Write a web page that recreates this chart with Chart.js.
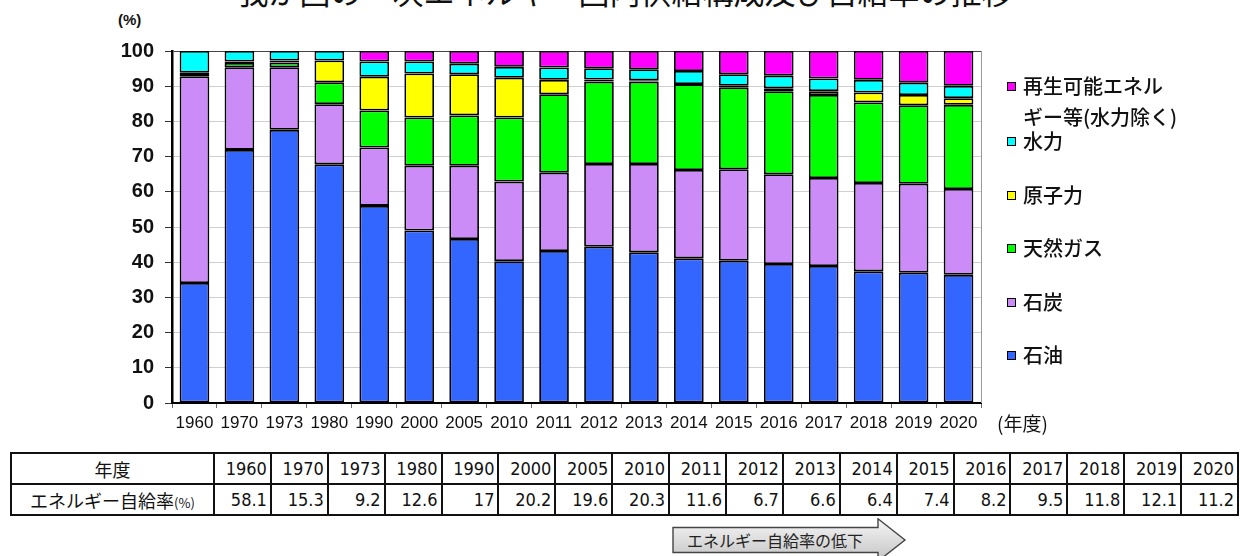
<!DOCTYPE html>
<html lang="ja">
<head>
<meta charset="utf-8">
<script src="https://cdn.jsdelivr.net/npm/chart.js@4.4.1/dist/chart.umd.min.js"></script>
<style>
  html, body { margin: 0; padding: 0; background: #fff; }
  body { width: 1240px; height: 556px; position: relative; overflow: hidden;
         font-family: "Noto Sans CJK JP", "Liberation Sans", sans-serif; color: #111; }
  #title { position: absolute; left: 0; width: 1250px; top: -25px; text-align: center;
           font-size: 31px; line-height: 31px; white-space: nowrap; color: #111; }
  #unit { position: absolute; left: 118px; top: 11px; font-size: 15px; font-weight: bold;
          font-family: "Liberation Sans", sans-serif; }
  #chartBox { position: absolute; left: 0; top: 0; width: 1240px; height: 445px; }
  #yearUnit { position: absolute; left: 997px; top: 409px; font-size: 19px; }
  #legend { position: absolute; left: 1007px; top: 0; }
  .lg { position: absolute; left: 0; white-space: nowrap; font-size: 20px; line-height: 31px; font-weight: 500; }
  .lg i { display: inline-block; width: 7px; height: 7px; border: 1px solid #000;
          vertical-align: middle; margin-right: 7px; position: relative; top: -2px; }
  #tbl { position: absolute; left: 10px; top: 452px; border-collapse: collapse; table-layout: fixed; }
  #tbl td { border: 2px solid #111; height: 29px; padding: 0 3px 0 0; font-size: 18px;
            font-family: "Liberation Sans Narrow", "DejaVu Sans Condensed", "Liberation Sans", sans-serif;
            text-align: right; white-space: nowrap; }
  #tbl td.hd { text-align: center; font-family: "Noto Sans CJK JP", sans-serif; font-size: 18px; padding: 0; }
  #tbl td.hd small { font-size: 13px; }
  #arrow { position: absolute; left: 672px; top: 518px; width: 236px; height: 44px; }
  #arrowText { position: absolute; left: 672px; top: 527px; width: 206px; height: 26px;
               text-align: center; font-size: 16px; line-height: 26px; color: #222; }
</style>
</head>
<body>
<div id="title">我が国の一次エネルギー国内供給構成及び自給率の推移</div>
<div id="unit">(%)</div>
<div id="chartBox"><canvas id="c" width="1240" height="445"></canvas></div>
<div id="yearUnit">(年度)</div>
<div id="legend"></div>
<table id="tbl"></table>
<svg id="arrow" width="236" height="44" viewBox="0 0 236 44">
  <defs>
    <linearGradient id="ag" x1="0" y1="0" x2="0" y2="1">
      <stop offset="0" stop-color="#f6f6f6"/>
      <stop offset="1" stop-color="#c4c4c4"/>
    </linearGradient>
  </defs>
  <polygon points="1,9.5 206,9.5 206,0.8 233,22 206,43.2 206,34.5 1,34.5"
           fill="url(#ag)" stroke="#444" stroke-width="1.4"/>
</svg>
<div id="arrowText">エネルギー自給率の低下</div>

<script>
// 年度
const years = ['1960','1970','1973','1980','1990','2000','2005','2010','2011','2012',
               '2013','2014','2015','2016','2017','2018','2019','2020'];

// 一次エネルギー国内供給の構成比(%)
const oil     = [34.1,71.9,77.6,67.8,56.0,49.0,46.6,40.3,43.2,44.4,42.8,41.1,40.4,39.5,38.9,37.4,37.0,36.4];
const coal    = [58.7,23.5,17.8,17.1,16.6,18.4,20.8,22.6,22.2,23.5,25.1,25.1,26.0,25.5,25.0,25.1,25.3,24.4];
const gas     = [1.0,1.2,1.3,6.2,10.5,13.7,14.3,18.2,22.3,23.4,23.4,24.4,23.3,23.6,23.6,22.9,22.3,23.9];
const nuclear = [0,0.4,0.6,6.2,9.6,12.5,11.7,11.3,4.1,0.6,0.4,0,0.4,0.8,1.1,2.8,2.9,1.9];
const hydro   = [6.2,3.0,2.7,2.7,4.3,3.4,3.0,3.1,3.5,3.2,3.1,3.7,3.3,3.6,3.6,3.6,3.5,3.5];
const renew   = [0,0,0,0,3.0,3.0,3.6,4.5,4.7,4.9,5.2,5.7,6.6,7.0,7.8,8.2,9.0,9.9];

// エネルギー自給率(%)
const selfRate = ['58.1','15.3','9.2','12.6','17','20.2','19.6','20.3','11.6','6.7',
                  '6.6','6.4','7.4','8.2','9.5','11.8','12.1','11.2'];

// y軸目盛
const yTicks = [0,10,20,30,40,50,60,70,80,90,100];

const series = [
  { label: '石油', data: oil, color: '#3366ff' },
  { label: '石炭', data: coal, color: '#cc8cf8' },
  { label: '天然ガス', data: gas, color: '#00ff00' },
  { label: '原子力', data: nuclear, color: '#ffff00' },
  { label: '水力', data: hydro, color: '#00ffff' },
  { label: ['再生可能エネル', 'ギー等(水力除く)'], data: renew, color: '#ff00ff' }
];

const frame = {
  id: 'frame',
  afterDraw(chart) {
    const { ctx, chartArea: a } = chart;
    ctx.save();
    ctx.strokeStyle = '#999';
    ctx.lineWidth = 1;
    ctx.beginPath();
    ctx.moveTo(a.right + 0.5, a.top);
    ctx.lineTo(a.right + 0.5, a.bottom);
    ctx.stroke();
    ctx.restore();
  }
};

new Chart(document.getElementById('c'), {
  type: 'bar',
  data: {
    labels: years,
    datasets: series.map(s => ({
      label: Array.isArray(s.label) ? s.label.join('') : s.label,
      data: s.data,
      backgroundColor: s.color,
      borderColor: '#000',
      borderWidth: 1.8,
      borderSkipped: false,
      categoryPercentage: 1,
      barPercentage: 0.66
    }))
  },
  options: {
    responsive: false,
    animation: false,
    events: [],
    layout: { padding: { left: 0, top: 51, right: 259, bottom: 0 } },
    plugins: { legend: { display: false }, tooltip: { enabled: false }, title: { display: false } },
    scales: {
      x: {
        stacked: true,
        offset: true,
        grid: { display: true, drawOnChartArea: false, offset: true, tickLength: 5, tickColor: '#666' },
        border: { color: '#000', width: 2 },
        ticks: { color: '#111', font: { family: 'Liberation Sans', size: 17 }, padding: 5, maxRotation: 0, autoSkip: false },
        afterFit(scale) { scale.height = 42; }
      },
      y: {
        stacked: true,
        min: 0, max: 100,
        afterBuildTicks(scale) { scale.ticks = yTicks.map(v => ({ value: v })); },
        grid: {
          color: ctx => (ctx.tick && ctx.tick.value === 100) ? '#444' : '#cfcfcf',
          lineWidth: 1,
          tickLength: 7,
          tickColor: '#333'
        },
        border: { color: '#000', width: 2.5 },
        ticks: { color: '#111', font: { family: 'Liberation Sans', size: 20, weight: 'bold' }, padding: 11 },
        afterFit(scale) { scale.width = 172; }
      }
    }
  },
  plugins: [frame]
});

// 凡例(上から 再生可能 → 石油)
const legendY = [70, 125, 179, 232, 286, 339];
const legendEl = document.getElementById('legend');
series.slice().reverse().forEach((s, i) => {
  const d = document.createElement('div');
  d.className = 'lg';
  d.style.top = legendY[i] + 'px';
  if (Array.isArray(s.label)) {
    d.innerHTML = '<i style="background:' + s.color + '"></i>' + s.label[0] +
                  '<br><span style="padding-left:16px">' + s.label[1] + '</span>';
  } else {
    d.innerHTML = '<i style="background:' + s.color + '"></i>' + s.label;
  }
  legendEl.appendChild(d);
});

// 自給率の表
const tbl = document.getElementById('tbl');
const colg = document.createElement('colgroup');
const c0 = document.createElement('col'); c0.style.width = '203px'; colg.appendChild(c0);
years.forEach(() => { const c = document.createElement('col'); c.style.width = '56.9px'; colg.appendChild(c); });
tbl.appendChild(colg);
const r1 = tbl.insertRow();
const h1 = r1.insertCell(); h1.className = 'hd'; h1.textContent = '年度';
years.forEach(y => { r1.insertCell().textContent = y; });
const r2 = tbl.insertRow();
const h2 = r2.insertCell(); h2.className = 'hd'; h2.innerHTML = 'エネルギー自給率<small>(%)</small>';
selfRate.forEach(v => { r2.insertCell().textContent = v; });
</script>
</body>
</html>
